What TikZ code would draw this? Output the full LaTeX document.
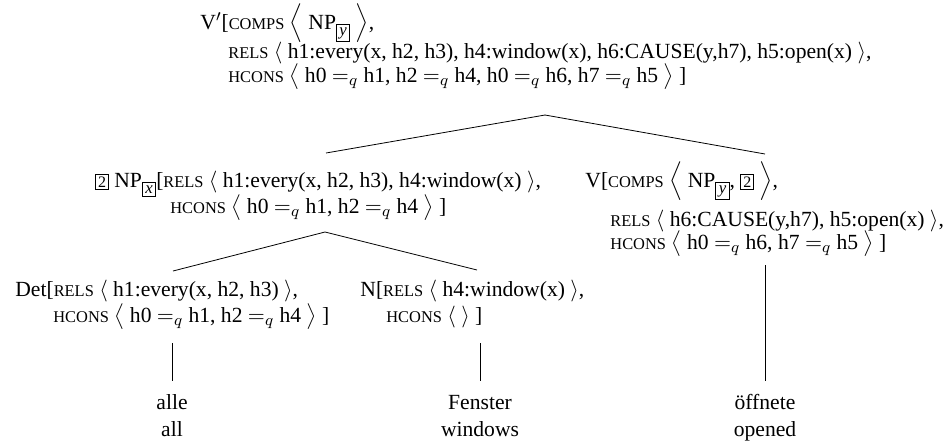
\documentclass[tikz,border=0pt]{standalone}
\usepackage{amsmath,amssymb}
\usepackage{fontspec}
\setmainfont{Liberation Serif}
\usepackage{tikz}
\usetikzlibrary{positioning}

\setlength{\fboxrule}{0.4pt}
\newcommand{\fs}[1]{{\fontsize{8.2}{9}\selectfont\MakeUppercase{#1}}}
\newcommand{\tagbox}[1]{{\setlength{\fboxsep}{1pt}\fbox{\fontsize{8}{9}\selectfont #1}}}
\newcommand{\idx}[1]{\raisebox{-3pt}{\setlength{\fboxsep}{1.3pt}\fbox{\fontsize{8.4}{9}\selectfont\itshape #1}}}
\newcommand{\qeq}{$=_q$}
\newcommand{\langl}{$\langle$}
\newcommand{\rangl}{$\rangle$}
\newcommand{\mLangl}{$\big\langle$}
\newcommand{\mRangl}{$\big\rangle$}
\newcommand{\BLangl}{$\Big\langle$}
\newcommand{\BRangl}{$\Big\rangle$}

\tikzset{
  fsline/.style={anchor=base west, inner sep=0pt},
  gloss/.style={anchor=base, inner sep=0pt},
  branch/.style={thin}
}

\begin{document}
\begin{tikzpicture}[x=0.5pt,y=-0.5pt,font=\fontsize{10.8}{12}\selectfont]
\useasboundingbox (0,0) rectangle (946,441);
% V' (root)
\node[fsline] (vp1) at (200,29) {V$'$[\fs{comps} \BLangl\ NP\idx{y} \BRangl,};
\node[fsline] (vp2) at (228,58) {\fs{rels} \langl\ h1:every(x, h2, h3), h4:window(x), h6:CAUSE(y,h7), h5:open(x) \rangl,};
\node[fsline] (vp3) at (228,82) {\fs{hcons} \mLangl\ h0 \qeq\ h1, h2 \qeq\ h4, h0 \qeq\ h6, h7 \qeq\ h5 \mRangl\ ]};
% NP
\node[fsline] (np1) at (95,187) {\tagbox{2} NP\idx{x}[\fs{rels} \langl\ h1:every(x, h2, h3), h4:window(x) \rangl,};
\node[fsline] (np2) at (170,213) {\fs{hcons} \mLangl\ h0 \qeq\ h1, h2 \qeq\ h4 \mRangl\ ]};
% V
\node[fsline] (v1) at (585,187) {V[\fs{comps} \BLangl\ NP\idx{y}, \tagbox{2} \BRangl,};
\node[fsline] (v2) at (610,226) {\fs{rels} \langl\ h6:CAUSE(y,h7), h5:open(x) \rangl,};
\node[fsline] (v3) at (610,249) {\fs{hcons} \mLangl\ h0 \qeq\ h6, h7 \qeq\ h5 \mRangl\ ]};
% Det and N
\node[fsline] (det1) at (15,296) {Det[\fs{rels} \langl\ h1:every(x, h2, h3) \rangl,};
\node[fsline] (det2) at (53,322) {\fs{hcons} \mLangl\ h0 \qeq\ h1, h2 \qeq\ h4 \mRangl\ ]};
\node[fsline] (n1) at (360,296) {N[\fs{rels} \langl\ h4:window(x) \rangl,};
\node[fsline] (n2) at (386,322) {\fs{hcons} \langl\ \rangl\ ]};
% words and glosses
\node[gloss] (alle) at (172,409) {alle};
\node[gloss] (all) at (172,436) {all};
\node[gloss] (fenster) at (480,409) {Fenster};
\node[gloss] (windows) at (480,436) {windows};
\node[gloss] (oeffnete) at (765,409) {öffnete};
\node[gloss] (opened) at (765,436) {opened};
% joints
\coordinate (vp-foot) at (545,115);
\coordinate (np-head) at (326,153);
\coordinate (v-head) at (765,154);
\coordinate (np-foot) at (325,232);
\coordinate (det-head) at (173,271);
\coordinate (n-head) at (477,270);
\coordinate (det-foot) at (172,343);
\coordinate (n-foot) at (480,343);
\coordinate (v-foot) at (765,265);
\coordinate (alle-head) at (172,381);
\coordinate (fenster-head) at (480,381);
\coordinate (oeffnete-head) at (765,381);
\draw[branch] (np-head) -- (vp-foot) -- (v-head);
\draw[branch] (det-head) -- (np-foot) -- (n-head);
\draw[branch] (det-foot) -- (alle-head);
\draw[branch] (n-foot) -- (fenster-head);
\draw[branch] (v-foot) -- (oeffnete-head);
\end{tikzpicture}
\end{document}
